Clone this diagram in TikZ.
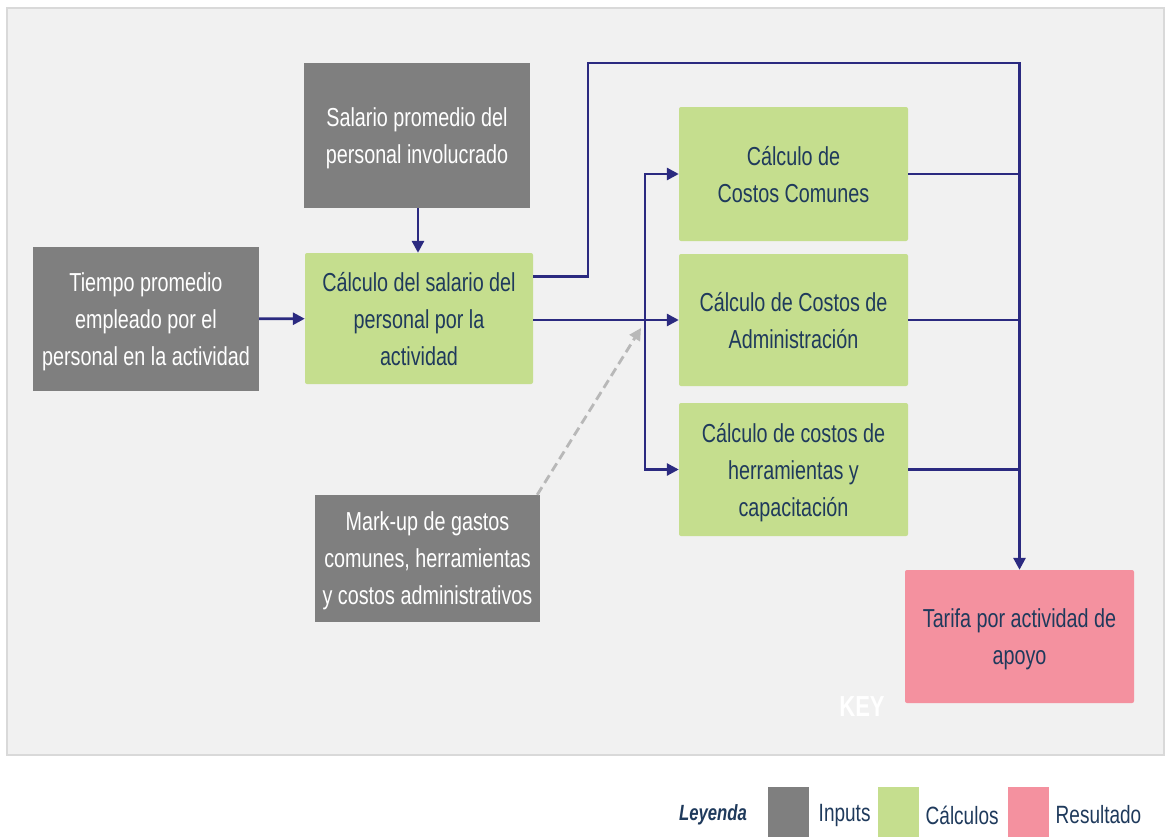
\documentclass[tikz,border=0pt]{standalone}
\usepackage{fontspec}
\setmainfont{Liberation Sans}[FakeStretch=0.76]
\usetikzlibrary{arrows.meta}

\definecolor{inputgrey}{HTML}{7F7F7F}
\definecolor{calcgreen}{HTML}{C5DE8E}
\definecolor{resultpink}{HTML}{F4919F}
\definecolor{flownavy}{HTML}{2B2A80}
\definecolor{textnavy}{HTML}{1F3A5C}
\definecolor{panelgrey}{HTML}{F1F1F1}

\tikzset{
  box/.style={minimum width=228pt, align=center, inner sep=0pt,
    font=\fontsize{26}{37}\selectfont, text depth=0pt},
  inbox/.style={box, fill=inputgrey, text=white},
  calcbox/.style={box, fill=calcgreen, text=textnavy, rounded corners=2pt},
  resbox/.style={box, fill=resultpink, text=textnavy, rounded corners=2pt},
  flow/.style={draw=flownavy, line width=2.8pt, -{Triangle[length=12pt,width=12pt]}},
  wire/.style={draw=flownavy, line width=2.8pt},
  markup/.style={draw=black!28, line width=2.8pt, dash pattern=on 9pt off 5pt,
    -{Triangle[length=12pt,width=12pt]}},
  keysq/.style={minimum width=41pt, minimum height=50pt, inner sep=0pt},
  keytext/.style={text=textnavy, font=\fontsize{25}{28}\selectfont}
}

\begin{document}
\begin{tikzpicture}[x=1pt, y=-1pt]
  \useasboundingbox (0,0) rectangle (1166,836);
  % panel behind the diagram
  \draw[draw=black!15, line width=2pt, fill=panelgrey] (7,8) rectangle (1164,755);

  % inputs
  \node[inbox, minimum width=226pt, minimum height=145pt] (salario) at (417,135.5)
    {Salario promedio del\\personal involucrado};
  \node[inbox, minimum width=226pt, minimum height=144pt] (tiempo) at (146,319)
    {Tiempo promedio\\empleado por el\\personal en la actividad};
  \node[inbox, minimum width=225pt, minimum height=127pt] (mark) at (427.5,558.5)
    {Mark-up de gastos\\comunes, herramientas\\y costos administrativos};

  % calculations
  \node[calcbox, minimum height=131pt] (calc) at (419,318.5)
    {Cálculo del salario del\\personal por la\\actividad};
  \node[calcbox, minimum width=229pt, minimum height=134pt] (comunes) at (793.5,174)
    {Cálculo de\\Costos Comunes};
  \node[calcbox, minimum width=229pt, minimum height=132pt] (admin) at (793.5,320)
    {Cálculo de Costos de\\Administración};
  \node[calcbox, minimum width=229pt, minimum height=133pt] (herr) at (793.5,469.5)
    {Cálculo de costos de\\herramientas y\\capacitación};

  % result
  \node[resbox, minimum width=229pt, minimum height=133pt] (tarifa) at (1019.5,636.5)
    {Tarifa por actividad de\\apoyo};
  \node[text=white, font=\fontsize{29}{30}\selectfont\bfseries] (key) at (862,707) {KEY};

  % helper points for the routing
  \coordinate (top) at (588,63);
  \coordinate (bus) at (645,0);
  \coordinate (mkend) at (641,328);

  % Draw edges
  \draw[flow] ([xshift=1pt]salario.south) -- ([xshift=1pt]salario.south |- calc.north);
  \draw[flow] (tiempo) -- (calc);
  \draw[flow] ([yshift=42pt]calc.east) -| (top) -| (tarifa.north);
  \draw[flow] (calc.east |- admin) -- (admin.west);
  \draw[flow, {Triangle[length=12pt,width=12pt]}-{Triangle[length=12pt,width=12pt]}]
    (comunes.west) -| (bus |- herr) -- (herr.west);
  \foreach \n in {comunes,admin,herr}
    \draw[wire] (\n.east) -- (\n.east -| tarifa.north);
  \draw[markup] ([xshift=-3pt]mark.north east) -- (mkend);

  % legend
  \node[keytext, font=\fontsize{22}{26}\selectfont\bfseries\itshape] (leyenda) at (713,815) {Leyenda};
  \node[keysq, fill=inputgrey] (kin) at (788.5,812) {};
  \node[keytext, right=6pt, yshift=-3pt] (tin) at (kin.east) {Inputs};
  \node[keysq, fill=calcgreen] (kcalc) at (898.5,812) {};
  \node[keytext, right=3pt, yshift=-3pt] (tcalc) at (kcalc.east) {Cálculos};
  \node[keysq, fill=resultpink] (kres) at (1028.5,812) {};
  \node[keytext, right=3pt, yshift=-3pt] (tres) at (kres.east) {Resultado};
\end{tikzpicture}
\end{document}
